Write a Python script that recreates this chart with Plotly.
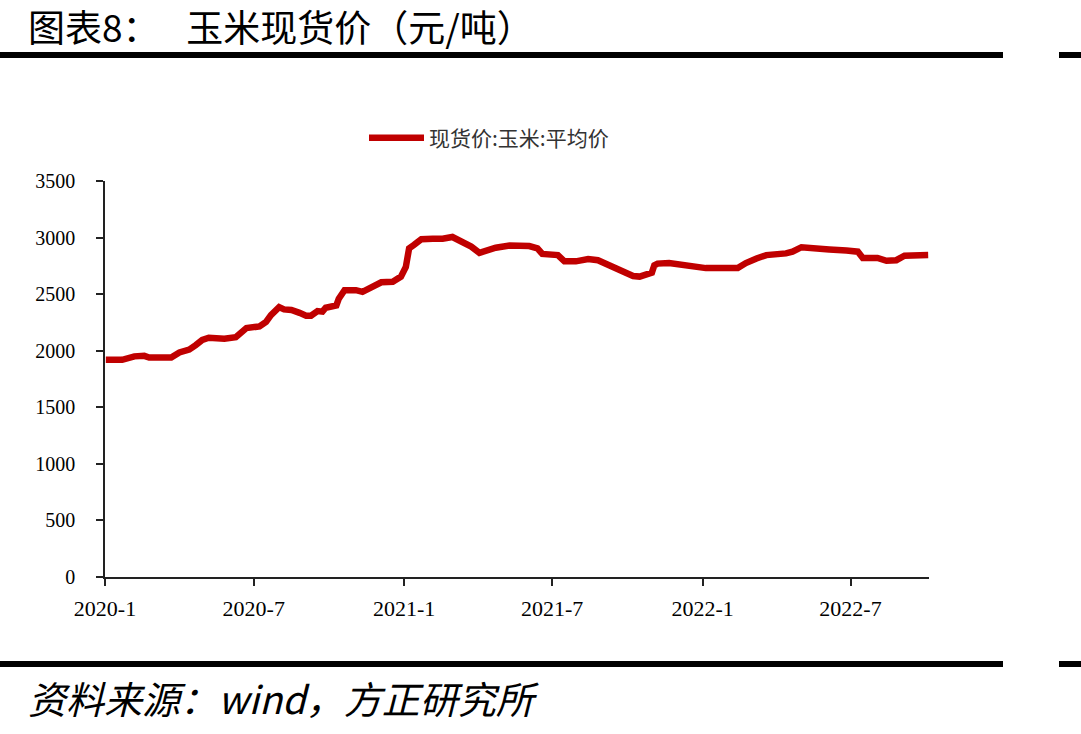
import plotly.graph_objects as go

# ---- data ----
dates = [
    "2020-01-02", "2020-01-22", "2020-02-06", "2020-02-18", "2020-02-24", "2020-03-22",
    "2020-04-01", "2020-04-13", "2020-04-21", "2020-04-29", "2020-05-07", "2020-05-24",
    "2020-05-26", "2020-06-09", "2020-06-22", "2020-07-08", "2020-07-16", "2020-07-22",
    "2020-08-01", "2020-08-07", "2020-08-16", "2020-08-26", "2020-09-03", "2020-09-09",
    "2020-09-17", "2020-09-23", "2020-09-27", "2020-10-10", "2020-10-13", "2020-10-20",
    "2020-11-03", "2020-11-11", "2020-11-23", "2020-12-04", "2020-12-18", "2020-12-28",
    "2021-01-03", "2021-01-07", "2021-01-13", "2021-01-22", "2021-02-05", "2021-02-17",
    "2021-03-01", "2021-03-07", "2021-03-16", "2021-03-24", "2021-04-03", "2021-04-13",
    "2021-04-23", "2021-05-10", "2021-06-03", "2021-06-13", "2021-06-19", "2021-07-08",
    "2021-07-16", "2021-07-30", "2021-08-14", "2021-08-26", "2021-09-05", "2021-09-15",
    "2021-09-23", "2021-10-08", "2021-10-16", "2021-10-26", "2021-10-31", "2021-11-03",
    "2021-11-07", "2021-11-21", "2021-12-03", "2021-12-12", "2021-12-20", "2022-01-05",
    "2022-02-13", "2022-02-23", "2022-03-08", "2022-03-20", "2022-04-13", "2022-04-21",
    "2022-05-02", "2022-05-24", "2022-06-05", "2022-06-26", "2022-07-10", "2022-07-16",
    "2022-08-03", "2022-08-14", "2022-08-26", "2022-09-05", "2022-10-04",
]
corn_price = [
    1920, 1920, 1950, 1955, 1940, 1940,
    1985, 2010, 2050, 2095, 2115, 2115,
    2105, 2120, 2200, 2215, 2255, 2315,
    2385, 2365, 2360, 2335, 2310, 2310,
    2350, 2345, 2380, 2400, 2460, 2535,
    2535, 2520, 2565, 2605, 2610, 2655,
    2740, 2905, 2935, 2985, 2990, 2990,
    3005, 2985, 2945, 2920, 2865, 2890,
    2910, 2930, 2925, 2905, 2855, 2845,
    2790, 2790, 2810, 2800, 2765, 2740,
    2700, 2660, 2655, 2675, 2690, 2755,
    2770, 2775, 2765, 2755, 2740, 2730,
    2730, 2775, 2815, 2845, 2860, 2875,
    2915, 2910, 2895, 2885, 2875, 2820,
    2820, 2795, 2800, 2840, 2845,
]
series_name = "现货价:玉米:平均价"
x_tick_vals = ["2020-01-01", "2020-07-01", "2021-01-01", "2021-07-01", "2022-01-01", "2022-07-01"]
x_tick_text = ["2020-1", "2020-7", "2021-1", "2021-7", "2022-1", "2022-7"]
y_tick_vals = [0, 500, 1000, 1500, 2000, 2500, 3000, 3500]
title_text = "图表8：\u3000\u00a0玉米现货价（元/吨）"
source_text = "资料来源：wind，方正研究所"

# ---- layout geometry (pixels) ----
W, H = 1081, 734
L, R, T, B = 105, 929, 181, 577


def px(x):
    return (x - L) / (R - L)


def py(y):
    return (B - y) / (B - T)


fig = go.Figure()
fig.add_trace(go.Scatter(
    x=dates, y=corn_price, mode="lines", name=series_name,
    line=dict(color="#C00000", width=6.5),
))

serif = "Liberation Serif, Times New Roman, serif"
cjk = "Noto Sans CJK SC"

fig.update_layout(
    width=W, height=H,
    margin=dict(l=L, r=W - R, t=T, b=H - B, pad=0),
    paper_bgcolor="white", plot_bgcolor="white",
    showlegend=True,
    legend=dict(
        orientation="h", x=px(364), y=py(138), xanchor="left", yanchor="middle",
        font=dict(family=cjk, size=21, color="#333333"),
        bgcolor="rgba(0,0,0,0)", itemwidth=55,
    ),
    xaxis=dict(
        type="date", range=["2020-01-01", "2022-10-05"],
        tickvals=x_tick_vals, ticktext=x_tick_text,
        showgrid=False, zeroline=False,
        showline=True, linecolor="#222222", linewidth=2,
        ticks="outside", ticklen=7, tickwidth=2, tickcolor="#222222",
        tickfont=dict(family=serif, size=22, color="black"),
        ticklabelstandoff=4,
    ),
    yaxis=dict(
        range=[0, 3500], tickvals=y_tick_vals,
        showgrid=False, zeroline=False,
        showline=True, linecolor="#222222", linewidth=1.5,
        ticks="outside", ticklen=7, tickwidth=1.5, tickcolor="#222222",
        tickfont=dict(family=serif, size=20, color="black"),
        ticklabelstandoff=17,
    ),
    shapes=[
        dict(type="rect", xref="paper", yref="paper", x0=px(0), x1=px(1003),
             y0=py(58), y1=py(52), fillcolor="black", line=dict(width=0)),
        dict(type="rect", xref="paper", yref="paper", x0=px(1059), x1=px(1085),
             y0=py(58), y1=py(52), fillcolor="black", line=dict(width=0)),
        dict(type="rect", xref="paper", yref="paper", x0=px(0), x1=px(1003),
             y0=py(667), y1=py(661), fillcolor="black", line=dict(width=0)),
        dict(type="rect", xref="paper", yref="paper", x0=px(1059), x1=px(1085),
             y0=py(667), y1=py(661), fillcolor="black", line=dict(width=0)),
    ],
    annotations=[
        dict(text=title_text, xref="paper", yref="paper", x=px(26), y=py(26),
             xanchor="left", yanchor="middle", showarrow=False,
             font=dict(family=cjk, size=37, color="black")),
        dict(text=source_text, xref="paper", yref="paper", x=px(26), y=py(697),
             xanchor="left", yanchor="middle", showarrow=False,
             font=dict(family=cjk, size=38, color="black", style="italic")),
    ],
)

fig.write_html("out.html")
